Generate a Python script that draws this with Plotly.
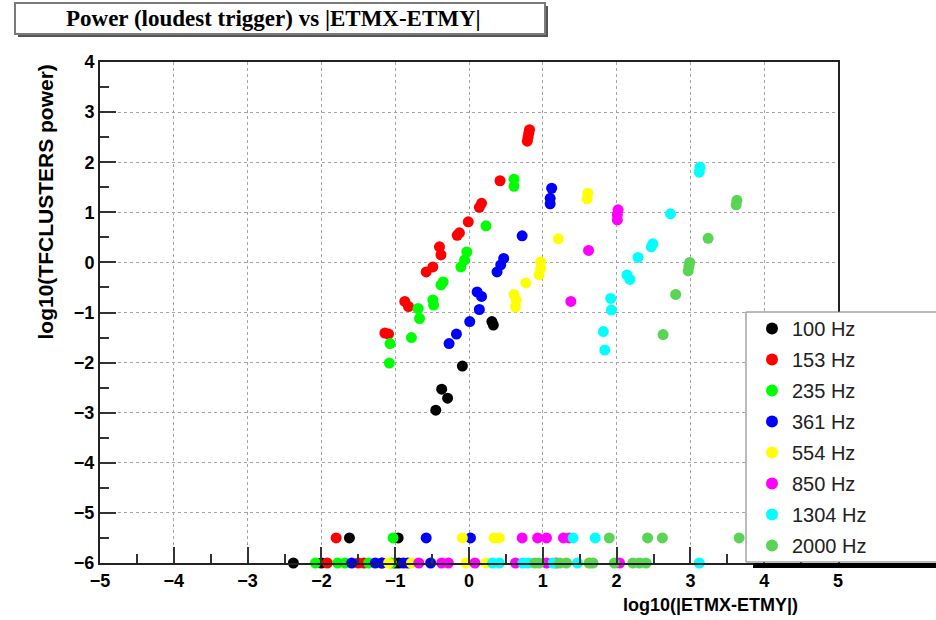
import plotly.graph_objects as go

# log10(|ETMX-ETMY|) and log10(TFCLUSTERS power) of the loudest trigger, per injection frequency
x_100 = [0.31, 0.33, -0.09, -0.37, -0.29, -0.45, -2.38, -2.0, -1.0, -0.95, -1.62, -0.96]
y_100 = [-1.18, -1.25, -2.07, -2.53, -2.71, -2.95, -6, -6, -6, -6, -5.5, -5.5]

x_153 = [0.82, 0.81, 0.80, 0.79, 0.42, 0.17, 0.14, -0.01, -0.13, -0.16, -0.40, -0.38,
         -0.49, -0.58, -0.87, -0.82, -1.14, -1.09, -1.92, -1.5, -1.42, -1.18, -1.80]
y_153 = [2.65, 2.58, 2.50, 2.42, 1.63, 1.18, 1.10, 0.81, 0.59, 0.54, 0.31, 0.15,
         -0.09, -0.19, -0.78, -0.88, -1.41, -1.43, -6, -6, -6, -6, -5.5]

x_235 = [0.61, 0.61, 0.23, -0.03, -0.06, -0.11, -0.35, -0.38, -0.49, -0.48, -0.69, -0.67,
         -0.78, -1.07, -1.08, -2.08, -1.78, -1.68, -1.36, -1.05, -1.03]
y_235 = [1.66, 1.52, 0.73, 0.21, 0.05, -0.09, -0.39, -0.45, -0.75, -0.85, -0.92, -1.12,
         -1.50, -1.62, -2.01, -6, -6, -6, -6, -6, -5.5]

x_361 = [1.12, 1.10, 1.10, 0.72, 0.47, 0.43, 0.38, 0.11, 0.17, 0.14, 0.01, -0.17, -0.27,
         -1.59, -1.27, -1.18, -0.89, -0.83, -0.52, -0.58, 0.02]
y_361 = [1.48, 1.28, 1.17, 0.53, 0.08, -0.05, -0.19, -0.59, -0.68, -0.94, -1.18, -1.43, -1.62,
         -6, -6, -6, -6, -6, -6, -5.5, -5.5]

x_554 = [1.61, 1.60, 1.21, 0.97, 0.97, 0.95, 0.77, 0.61, 0.64, 0.63,
         -1.09, -0.78, -0.04, 0.23, 1.62, -0.09, 0.34, 0.41]
y_554 = [1.38, 1.27, 0.47, 0.01, -0.12, -0.25, -0.41, -0.64, -0.75, -0.89,
         -6, -6, -6, -6, -6, -5.5, -5.5, -5.5]

x_850 = [2.02, 2.01, 2.01, 1.62, 1.38, -0.68, -0.37, -0.28, 0.08, 0.63, 1.05, 1.18, 2.04,
         0.72, 0.93, 1.05, 1.28, 1.36]
y_850 = [1.05, 0.95, 0.85, 0.24, -0.78, -6, -6, -6, -6, -6, -6, -6, -6,
         -5.5, -5.5, -5.5, -5.5, -5.5]

x_1304 = [3.13, 3.12, 2.73, 2.49, 2.47, 2.29, 2.14, 2.18, 1.92, 1.93, 1.82, 1.84,
          0.32, 0.41, 0.73, 0.80, 1.14, 1.47, 3.12, 1.41, 1.71]
y_1304 = [1.90, 1.80, 0.97, 0.37, 0.31, 0.10, -0.25, -0.34, -0.72, -0.95, -1.38, -1.75,
          -6, -6, -6, -6, -6, -6, -6, -5.5, -5.5]

x_2000 = [3.63, 3.62, 3.24, 2.99, 2.98, 2.97, 2.80, 2.63,
          0.89, 0.95, 1.23, 1.32, 1.63, 1.68, 1.97, 2.22, 2.31, 2.40, 1.90, 2.42, 2.62, 3.66]
y_2000 = [1.24, 1.15, 0.48, 0.0, -0.08, -0.17, -0.64, -1.44,
          -6, -6, -6, -6, -6, -6, -6, -6, -6, -6, -5.5, -5.5, -5.5, -5.5]

labels = ["100 Hz", "153 Hz", "235 Hz", "361 Hz", "554 Hz", "850 Hz", "1304 Hz", "2000 Hz"]
colors = ["#000000", "#ff0000", "#00ff00", "#0000ff", "#ffff00", "#ff00ff", "#00ffff", "#59d454"]
xs = [x_100, x_153, x_235, x_361, x_554, x_850, x_1304, x_2000]
ys = [y_100, y_153, y_235, y_361, y_554, y_850, y_1304, y_2000]

W, H = 936, 620
L, R, T, B = 100, 838, 62, 563   # plot frame in pixels


def px(xp):
    return (xp - L) / (R - L)


def py(yp):
    return (B - yp) / (B - T)


fig = go.Figure()
for name, col, xv, yv in zip(labels, colors, xs, ys):
    fig.add_trace(go.Scatter(
        x=xv, y=yv, mode="markers", name=name, legendgroup=name,
        marker=dict(color=col, size=11, line=dict(width=0)),
        cliponaxis=False,
    ))

sans = "Liberation Sans, Arial, Helvetica, sans-serif"
axis_style = dict(
    showline=True, linecolor="#222222", linewidth=2, mirror=True,
    ticks="inside", ticklen=16, tickwidth=2, tickcolor="#333333",
    showgrid=True, gridcolor="#a5a5a5", griddash="dot", gridwidth=1,
    zeroline=False, dtick=1, tick0=0,
    tickfont=dict(family=sans, size=18, color="black", weight="bold"),
    minor=dict(ticks="inside", ticklen=9, tickwidth=1.5, tickcolor="#333333",
               dtick=0.5, tick0=0, showgrid=False),
)

fig.update_xaxes(range=[-5, 5], **axis_style)
fig.update_yaxes(range=[-6, 4], **axis_style)

shapes = [
    # title pave: shadow then box
    dict(type="rect", xref="paper", yref="paper", layer="above",
         x0=px(18), x1=px(548), y0=py(37), y1=py(6),
         fillcolor="#555555", line=dict(width=0)),
    dict(type="rect", xref="paper", yref="paper", layer="above",
         x0=px(15), x1=px(545), y0=py(34), y1=py(3),
         fillcolor="white", line=dict(color="#7a7a7a", width=2)),
    # legend pave: box then bottom shadow
    dict(type="rect", xref="paper", yref="paper", layer="above",
         x0=px(746), x1=px(945), y0=py(562), y1=py(312),
         fillcolor="white", line=dict(color="#777777", width=1)),
    dict(type="rect", xref="paper", yref="paper", layer="above",
         x0=px(753), x1=px(945), y0=py(568), y1=py(563),
         fillcolor="black", line=dict(width=0)),
]

annotations = [
    dict(text="<b>Power (loudest trigger) vs |ETMX-ETMY|</b>", xref="paper", yref="paper",
         x=px(273), y=py(19), xanchor="center", yanchor="middle", showarrow=False,
         font=dict(family="Liberation Serif, Times New Roman, serif", size=23, color="black")),
    dict(text="<b>log10(|ETMX-ETMY|)</b>", xref="paper", yref="paper",
         x=px(800), y=py(605), xanchor="right", yanchor="middle", showarrow=False,
         font=dict(family=sans, size=18, color="black")),
    dict(text="<b>log10(TFCLUSTERS power)</b>", xref="paper", yref="paper",
         x=px(45), y=py(63), xanchor="center", yanchor="top", showarrow=False,
         textangle=-90, font=dict(family=sans, size=21, color="black")),
]

fig.update_layout(
    width=W, height=H,
    margin=dict(l=L, r=W - R, t=T, b=H - B, pad=0),
    paper_bgcolor="white", plot_bgcolor="white",
    showlegend=True,
    legend=dict(x=px(752), y=py(309), xanchor="left", yanchor="top",
                bgcolor="rgba(0,0,0,0)", borderwidth=0,
                font=dict(family=sans, size=20, color="#222222"),
                tracegroupgap=2, itemsizing="constant"),
    shapes=shapes, annotations=annotations,
)

fig.write_html("out.html")
